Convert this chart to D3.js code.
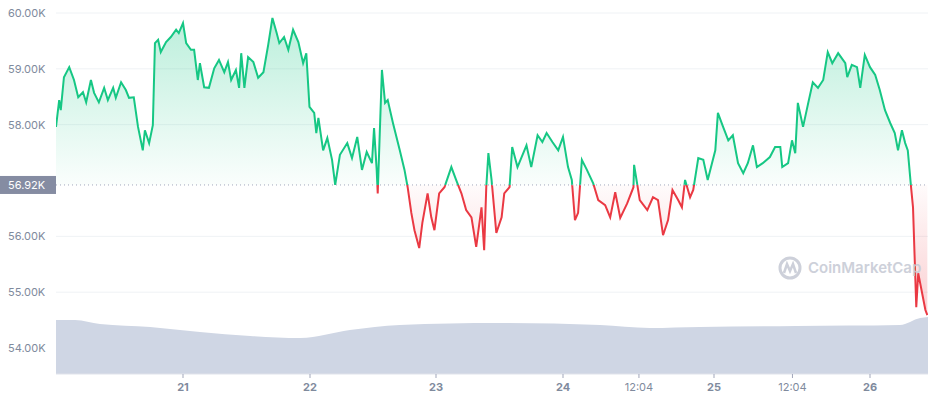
<!DOCTYPE html>
<html><head><meta charset="utf-8">
<script src="https://cdn.jsdelivr.net/npm/d3@7"></script>
<style>body{margin:0;background:#fff}svg{display:block;font-family:Inter,"Noto Sans",sans-serif}</style>
</head><body><svg id="c" width="928" height="400"></svg>
<script>
const hours=[0,0.6,0.9,1.5,2.5,3.4,4.2,5.1,5.7,6.6,7.2,8.1,9.1,9.8,10.8,11.3,12.3,13.2,13.8,14.7,15.5,16.4,16.8,17.6,18.3,18.7,19.3,19.8,20.8,21.7,22.7,23.2,24,24.6,25.5,26.1,26.8,27.2,28,28.9,29.9,30.8,31.8,32.5,33.1,34,34.6,35,35.6,36.3,37.3,38.2,39.2,40.1,40.9,41.7,42.2,43.1,43.9,44.8,45.8,46.7,47.3,47.9,48.8,49.2,49.6,50.5,51.3,52.2,52.8,53.7,55.1,56,57,57.9,58.8,59.8,60.2,60.7,60.9,61.7,62.3,62.8,63.8,65.1,66,66.6,67.3,67.9,68.8,69.4,70.4,71.1,71.7,72.6,73.6,74.9,75.8,76.8,77.7,78.7,79.6,80.6,81.1,81.5,81.9,82.5,83.4,84.4,84.9,85.9,86.4,87.4,89.1,90,91.2,92.1,92.9,94,95.1,96,96.8,97.4,97.9,98.4,99,99.8,100.8,101.6,102.7,103.5,104.3,105.1,106.2,107.2,107.3,108.2,109.4,110.3,111.1,111.9,112.7,113.4,114.3,114.9,115.4,116.2,116.7,117.5,118.3,119,120.2,120.6,121.4,122.2,122.9,123.7,124.5,125.2,126,126.6,127.5,128.6,129.4,130.2,130.5,131.4,132,132.5,132.9,133.7,134.5,135.2,136,136.8,137.5,138.2,139.1,140.2,140.5,141.2,142,142.5,143.2,144,144.8,145.5,146.3,147.1,147.8,148.3,148.9,149.4,149.8,150.3,150.6,151.1,151.4,152,152.5,152.8];
const prices=[57.96,58.44,58.26,58.85,59.03,58.80,58.49,58.58,58.40,58.80,58.57,58.40,58.66,58.44,58.66,58.48,58.76,58.62,58.48,58.49,57.96,57.54,57.90,57.67,57.99,59.46,59.52,59.30,59.48,59.57,59.70,59.64,59.82,59.46,59.34,59.34,58.80,59.10,58.67,58.66,59.01,59.16,58.94,59.12,58.80,58.98,58.66,59.28,58.66,59.21,59.12,58.84,58.94,59.43,59.91,59.64,59.46,59.57,59.34,59.70,59.48,59.10,59.28,58.32,58.21,57.85,58.12,57.54,57.76,57.37,56.92,57.46,57.67,57.40,57.78,57.19,57.51,57.31,57.94,57.19,56.77,58.98,58.39,58.44,58.03,57.54,57.19,56.88,56.42,56.11,55.79,56.24,56.77,56.34,56.11,56.77,56.88,57.24,57.01,56.77,56.47,56.34,55.81,56.52,55.75,56.88,57.49,57.01,56.06,56.34,56.77,56.88,57.60,57.24,57.63,57.24,57.81,57.69,57.85,57.69,57.54,57.78,57.24,57.01,56.29,56.42,57.37,57.19,56.95,56.65,56.56,56.34,56.79,56.33,56.59,56.88,57.28,56.65,56.47,56.70,56.65,56.02,56.29,56.83,56.65,56.52,57.01,56.70,56.83,57.40,57.37,57.01,57.54,58.21,57.96,57.72,57.81,57.31,57.13,57.31,57.63,57.24,57.31,57.42,57.60,57.60,57.24,57.31,57.72,57.49,58.39,57.96,58.39,58.76,58.66,58.80,59.30,59.10,59.28,59.10,58.85,59.07,59.03,58.66,59.25,59.03,58.89,58.62,58.26,58.03,57.85,57.54,57.90,57.67,57.54,56.88,56.52,54.73,55.34,54.98,54.68,54.59];
const volHours=[0,3.6,8.3,17.8,27.2,36.7,46.2,55.6,65.1,84,101.9,109.8,117.8,132.7,148.6,151.7,152.9];
const volumes=[54,54,50,47,42,38,36,44,49,51,49,46,47,48,49,56,57];
const yTicks=[54,55,56,58,59,60];
const xTickHours=[24,48,72,96,108.07,120,132.07,144];
const xTickLabels=["21","22","23","24","12:04","25","12:04","26"];
const baseline=56.92;

const svg=d3.select("#c");
const L=56,R=928,B=374;
const x=d3.scaleLinear().domain([0,24,48,72,96,120,144,152.9]).range([L,183,310,436,563,714,870,R]);
const y=d3.scaleLinear().domain([54,60]).range([348,13]);
const yv=d3.scaleLinear().domain([0,100]).range([B,B-100]);
const data=hours.map((h,i)=>[h,prices[i]]);

svg.append("g").selectAll("line").data(yTicks).join("line")
 .attr("x1",L).attr("x2",R).attr("y1",d=>y(d)).attr("y2",d=>y(d)).attr("stroke","#eff2f5");
svg.append("g").selectAll("text").data(yTicks).join("text")
 .attr("x",8).attr("y",d=>y(d)+4).attr("font-size",11).attr("fill","#808a9d").text(d=>d.toFixed(2)+"K");

const defs=svg.append("defs");
const gg=defs.append("linearGradient").attr("id","gg").attr("x1",0).attr("x2",0)
 .attr("gradientUnits","userSpaceOnUse").attr("y1",y(60)).attr("y2",y(baseline));
gg.append("stop").attr("offset",0).attr("stop-color","#16c784").attr("stop-opacity",0.3);
gg.append("stop").attr("offset",1).attr("stop-color","#16c784").attr("stop-opacity",0.02);
const rg=defs.append("linearGradient").attr("id","rg").attr("x1",0).attr("x2",0)
 .attr("gradientUnits","userSpaceOnUse").attr("y1",y(baseline)).attr("y2",y(54.5));
rg.append("stop").attr("offset",0).attr("stop-color","#ea3943").attr("stop-opacity",0.02);
rg.append("stop").attr("offset",1).attr("stop-color","#ea3943").attr("stop-opacity",0.25);
defs.append("clipPath").attr("id","ca").append("rect").attr("x",L).attr("y",0).attr("width",R-L).attr("height",y(baseline));
defs.append("clipPath").attr("id","cb").append("rect").attr("x",L).attr("y",y(baseline)).attr("width",R-L).attr("height",400);

const area=d3.area().x(d=>x(d[0])).y0(y(baseline)).y1(d=>y(d[1]));
const line=d3.line().x(d=>x(d[0])).y(d=>y(d[1]));
svg.append("path").datum(data).attr("d",area).attr("fill","url(#gg)").attr("clip-path","url(#ca)");
svg.append("path").datum(data).attr("d",area).attr("fill","url(#rg)").attr("clip-path","url(#cb)");

const vdata=volHours.map((h,i)=>[h,volumes[i]]);
svg.append("path").datum(vdata).attr("d",d3.area().x(d=>x(d[0])).y0(B).y1(d=>yv(d[1])).curve(d3.curveMonotoneX))
 .attr("fill","#cfd6e4");

svg.append("path").datum(data).attr("d",line).attr("fill","none").attr("stroke","#16c784").attr("stroke-width",2).attr("clip-path","url(#ca)");
svg.append("path").datum(data).attr("d",line).attr("fill","none").attr("stroke","#ea3943").attr("stroke-width",2).attr("clip-path","url(#cb)");

svg.append("line").attr("x1",L).attr("x2",R).attr("y1",y(baseline)).attr("y2",y(baseline))
 .attr("stroke","#a1a7bb").attr("stroke-dasharray","1,3");
svg.append("rect").attr("x",0).attr("y",y(baseline)-9).attr("width",L).attr("height",18).attr("fill","#858ca2");
svg.append("text").attr("x",8).attr("y",y(baseline)+4).attr("font-size",11).attr("fill","#fff").text(baseline.toFixed(2)+"K");

svg.append("line").attr("x1",L).attr("x2",R).attr("y1",B).attr("y2",B).attr("stroke","#e0e3eb");
const xt=svg.append("g").selectAll("g").data(xTickHours).join("g").attr("transform",d=>`translate(${x(d)},0)`);
xt.append("line").attr("y1",B).attr("y2",B+4).attr("stroke","#a1a7bb");
xt.append("text").attr("y",B+17).attr("text-anchor","middle").attr("font-size",11).attr("fill","#808a9d")
 .attr("font-weight",(d,i)=>xTickLabels[i].includes(":")?400:700).text((d,i)=>xTickLabels[i]);

const wm=svg.append("g").attr("opacity",0.9);
wm.append("circle").attr("cx",790).attr("cy",268).attr("r",10).attr("fill","none").attr("stroke","#c8ccd6").attr("stroke-width",3);
wm.append("path").attr("d","M784,273 L787,264 L790,271 L793,264 L796,273").attr("fill","none").attr("stroke","#c8ccd6").attr("stroke-width",2.5);
wm.append("text").attr("x",808).attr("y",273).attr("font-size",15).attr("font-weight",600).attr("fill","#c8ccd6").text("CoinMarketCap");
</script></body></html>
